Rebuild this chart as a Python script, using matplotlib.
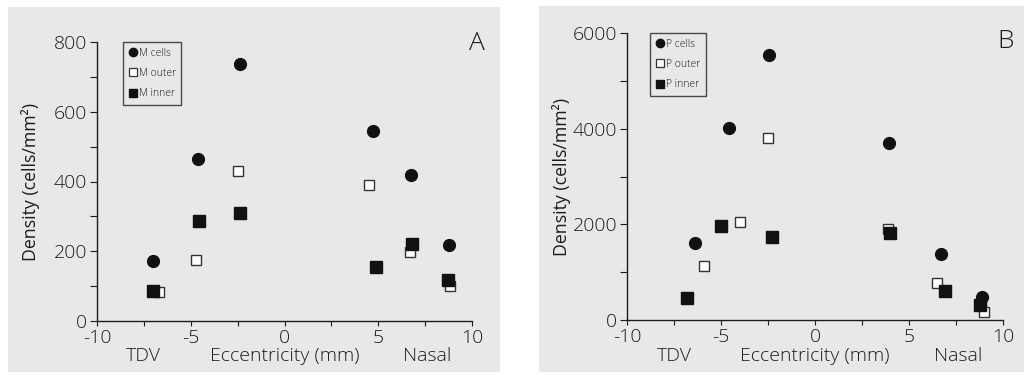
import matplotlib
matplotlib.use("Agg")
import matplotlib.pyplot as plt
from matplotlib.patches import Rectangle
from matplotlib.lines import Line2D
from matplotlib.ticker import MultipleLocator
import matplotlib.transforms as mtrans

plt.rcParams['font.family'] = ['Open Sans', 'DejaVu Sans']
plt.rcParams['font.weight'] = 'light'
plt.rcParams['axes.unicode_minus'] = False

# Panel A data
m_cells_x = [-7.0, -4.6, -2.4, 4.7, 6.75, 8.75]
m_cells_y = [171, 464, 738, 545, 418, 218]
m_outer_x = [-6.7, -4.7, -2.5, 4.5, 6.7, 8.8]
m_outer_y = [82, 176, 429, 389, 197, 100]
m_inner_x = [-7.0, -4.55, -2.35, 4.9, 6.8, 8.7]
m_inner_y = [87, 288, 310, 155, 220, 117]

# Panel B data
p_cells_x = [-6.4, -4.55, -2.45, 3.95, 6.7, 8.9]
p_cells_y = [1605, 4010, 5530, 3710, 1380, 475]
p_outer_x = [-5.9, -4.0, -2.5, 3.9, 6.5, 9.0]
p_outer_y = [1135, 2045, 3815, 1900, 765, 175]
p_inner_x = [-6.8, -5.0, -2.3, 4.0, 6.9, 8.8]
p_inner_y = [465, 1965, 1725, 1815, 615, 315]

W, H = 1024, 375
fig = plt.figure(figsize=(W / 100, H / 100), dpi=100)
fig.patch.set_facecolor('white')

bg = '#e7e8e8'
fig.patches.append(Rectangle((8 / W, 1 - 372 / H), (500 - 8) / W, (372 - 7) / H,
                             transform=fig.transFigure, facecolor=bg, edgecolor='none', zorder=-5))
fig.patches.append(Rectangle((539 / W, 1 - 372 / H), (1024 - 539) / W, (372 - 6) / H,
                             transform=fig.transFigure, facecolor=bg, edgecolor='none', zorder=-5))

txt = '#1c1c1c'
FS = 14


def make_axes(px_left, px_right, px_top, px_bottom):
    return fig.add_axes([px_left / W, 1 - px_bottom / H, (px_right - px_left) / W,
                         (px_bottom - px_top) / H])


def style(ax, ymax, ymajor, yminor):
    ax.set_facecolor('none')
    ax.set_xlim(-10, 10)
    ax.set_ylim(0, ymax)
    for s in ['top', 'right']:
        ax.spines[s].set_visible(False)
    for s in ['left', 'bottom']:
        ax.spines[s].set_color(txt)
        ax.spines[s].set_linewidth(1.0)
    ax.xaxis.set_major_locator(MultipleLocator(5))
    ax.xaxis.set_minor_locator(MultipleLocator(2.5))
    ax.yaxis.set_major_locator(MultipleLocator(ymajor))
    ax.yaxis.set_minor_locator(MultipleLocator(yminor))
    ax.tick_params(axis='both', which='both', direction='out', color=txt,
                   labelcolor=txt, labelsize=FS, width=0.8)
    ax.tick_params(axis='x', which='both', length=3.5, pad=2)
    ax.tick_params(axis='y', which='both', length=5, pad=2)
    ax.set_ylabel('Density (cells/mm\u00b2)', fontsize=12.8, color=txt)


def plot_series(ax, cx, cy, ox, oy, ix, iy, names, legend_px):
    ax.plot(cx, cy, 'o', ms=8.5, color='#111111', mec='#111111', clip_on=False, zorder=3)
    ax.plot(ox, oy, 's', ms=7.5, mfc='white', mec='#333333', mew=1.0, clip_on=False, zorder=3)
    ax.plot(ix, iy, 's', ms=8, color='#111111', mec='#111111', clip_on=False, zorder=4)
    handles = [
        Line2D([], [], ls='none', marker='o', ms=6, color='#111111'),
        Line2D([], [], ls='none', marker='s', ms=5.5, mfc='white', mec='#333333', mew=0.9),
        Line2D([], [], ls='none', marker='s', ms=5.5, color='#111111'),
    ]
    leg = ax.legend(handles, names, loc='upper left',
                    bbox_to_anchor=(legend_px[0] / W, 1 - legend_px[1] / H),
                    bbox_transform=fig.transFigure, fontsize=7.5, frameon=True,
                    fancybox=False, handlelength=0.8, handletextpad=0.15,
                    borderpad=0.55, labelspacing=0.9, borderaxespad=0)
    leg.get_frame().set_edgecolor('#222222')
    leg.get_frame().set_linewidth(1.0)
    leg.get_frame().set_facecolor('none')
    for t in leg.get_texts():
        t.set_color(txt)


def bottom_labels(ax):
    tr = mtrans.blended_transform_factory(ax.transData, fig.transFigure)
    y = 1 - 356 / H
    ax.text(-7.5, y, 'TDV', transform=tr, ha='center', va='center', fontsize=FS, color=txt)
    ax.text(0, y, 'Eccentricity (mm)', transform=tr, ha='center', va='center', fontsize=FS, color=txt)
    ax.text(7.6, y, 'Nasal', transform=tr, ha='center', va='center', fontsize=FS, color=txt)


# Panel A
axA = make_axes(97, 472, 42, 321)
style(axA, 800, 200, 100)
axA.yaxis.set_label_coords(-0.152, 0.5)
plot_series(axA, m_cells_x, m_cells_y, m_outer_x, m_outer_y, m_inner_x, m_inner_y,
            ['M cells', 'M outer', 'M inner'], (123, 42))
bottom_labels(axA)
fig.text(477 / W, 1 - 43 / H, 'A', ha='center', va='center', fontsize=19, color=txt)

# Panel B
axB = make_axes(627, 1003, 33, 320)
style(axB, 6000, 2000, 1000)
axB.yaxis.set_label_coords(-0.149, 0.5)
plot_series(axB, p_cells_x, p_cells_y, p_outer_x, p_outer_y, p_inner_x, p_inner_y,
            ['P cells', 'P outer', 'P inner'], (650, 33))
bottom_labels(axB)
fig.text(1006 / W, 1 - 42 / H, 'B', ha='center', va='center', fontsize=19, color=txt)

fig.savefig('out.png', dpi=100, facecolor='white')
